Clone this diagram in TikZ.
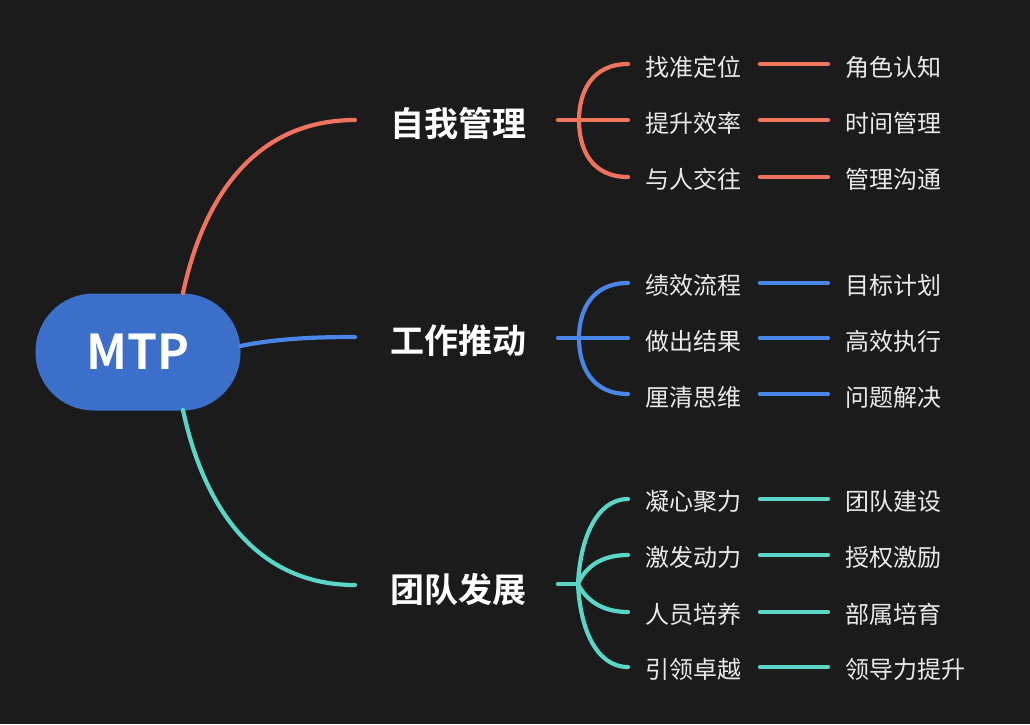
\documentclass[tikz,border=0pt]{standalone}
\usepackage{fontspec}
\setmainfont{Noto Sans}
\newfontfamily\cjk{Noto Sans CJK SC}
\newfontfamily\cjkb{Noto Sans CJK SC Bold}
\definecolor{bg}{HTML}{1B1B1B}
\definecolor{cred}{HTML}{F0735F}
\definecolor{cblue}{HTML}{4A86E8}
\definecolor{cteal}{HTML}{5AD6C8}
\definecolor{cnode}{HTML}{3B6FC9}
\definecolor{ctext}{HTML}{EAEAEA}
\tikzset{
  root/.style={fill=cnode, rounded corners=58pt, minimum width=205pt, minimum height=117pt, inner sep=0pt, text=white, font=\cjkb\fontsize{48}{50}\selectfont},
  mainlbl/.style={anchor=west, inner sep=0pt, text=white, font=\cjkb\fontsize{34}{36}\selectfont},
  sublbl/.style={anchor=west, inner sep=0pt, text=ctext, font=\cjk\fontsize{24}{26}\selectfont},
  br/.style={line width=4.2pt, line cap=round},
}
\begin{document}
\begin{tikzpicture}[x=1pt,y=-1pt]
\fill[bg] (0,0) rectangle (1030,724);
\useasboundingbox (0,0) rectangle (1030,724);

\node[root] (mtp) at (138,352) {MTP};

% main labels
\node[mainlbl] (m1) at (390,124) {自我管理};
\node[mainlbl] (m2) at (390,341) {工作推动};
\node[mainlbl] (m3) at (390,590) {团队发展};

% main connectors
\coordinate (r0) at (183,293);
\coordinate (b0) at (240,346);
\coordinate (t0) at (183,410);
\coordinate (r1) at (355,120);
\coordinate (b1) at (355,337);
\coordinate (t1) at (355,585);
\draw[br, cred] (r0) .. controls (205,190) and (260,120) .. (r1);
\draw[br, cblue] (b0) .. controls (280,338) and (320,337) .. (b1);
\draw[br, cteal] (t0) .. controls (205,513) and (260,585) .. (t1);

% ---------- red group ----------
\coordinate (rh0) at (558,120);
\coordinate (rh1) at (628,120);
\coordinate (ra) at (628,64);
\coordinate (rc) at (628,177);
\coordinate (rm) at (579,120);
\draw[br, cred] (rh0) -- (rh1);
\draw[br, cred] (ra) .. controls (592,64) and (579,92) .. (rm) .. controls (579,150) and (592,177) .. (rc);

\node[sublbl] (s11) at (645,67) {找准定位};
\node[sublbl] (s12) at (645,123) {提升效率};
\node[sublbl] (s13) at (645,179) {与人交往};
\node[sublbl] (e11) at (845,67) {角色认知};
\node[sublbl] (e12) at (845,123) {时间管理};
\node[sublbl] (e13) at (845,179) {管理沟通};
\coordinate (l11a) at (760,64);  \coordinate (l11b) at (828,64);
\coordinate (l12a) at (760,120); \coordinate (l12b) at (828,120);
\coordinate (l13a) at (760,177); \coordinate (l13b) at (828,177);
\draw[br, cred] (l11a) -- (l11b);
\draw[br, cred] (l12a) -- (l12b);
\draw[br, cred] (l13a) -- (l13b);

% ---------- blue group ----------
\coordinate (bh0) at (558,338);
\coordinate (bh1) at (628,338);
\coordinate (ba) at (628,283);
\coordinate (bc) at (628,394);
\coordinate (bm) at (579,338);
\draw[br, cblue] (bh0) -- (bh1);
\draw[br, cblue] (ba) .. controls (592,283) and (579,310) .. (bm) .. controls (579,367) and (592,394) .. (bc);

\node[sublbl] (s21) at (645,285) {绩效流程};
\node[sublbl] (s22) at (645,341) {做出结果};
\node[sublbl] (s23) at (645,397) {厘清思维};
\node[sublbl] (e21) at (845,285) {目标计划};
\node[sublbl] (e22) at (845,341) {高效执行};
\node[sublbl] (e23) at (845,397) {问题解决};
\coordinate (l21a) at (760,283); \coordinate (l21b) at (828,283);
\coordinate (l22a) at (760,338); \coordinate (l22b) at (828,338);
\coordinate (l23a) at (760,394); \coordinate (l23b) at (828,394);
\draw[br, cblue] (l21a) -- (l21b);
\draw[br, cblue] (l22a) -- (l22b);
\draw[br, cblue] (l23a) -- (l23b);

% ---------- teal group ----------
\coordinate (th0) at (558,584);
\coordinate (tm) at (578,584);
\coordinate (ta) at (628,499);
\coordinate (tb) at (628,555);
\coordinate (tc) at (628,612);
\coordinate (td) at (628,667);
\draw[br, cteal] (th0) -- (tm);
\draw[br, cteal] (ta) .. controls (596,499) and (580,540) .. (tm) .. controls (580,628) and (596,667) .. (td);
\draw[br, cteal] (tm) .. controls (586,566) and (602,555) .. (tb);
\draw[br, cteal] (tm) .. controls (586,600) and (602,612) .. (tc);

\node[sublbl] (s31) at (645,501) {凝心聚力};
\node[sublbl] (s32) at (645,557) {激发动力};
\node[sublbl] (s33) at (645,614) {人员培养};
\node[sublbl] (s34) at (645,669) {引领卓越};
\node[sublbl] (e31) at (845,501) {团队建设};
\node[sublbl] (e32) at (845,557) {授权激励};
\node[sublbl] (e33) at (845,614) {部属培育};
\node[sublbl] (e34) at (845,669) {领导力提升};
\coordinate (l31a) at (760,499); \coordinate (l31b) at (828,499);
\coordinate (l32a) at (760,555); \coordinate (l32b) at (828,555);
\coordinate (l33a) at (760,612); \coordinate (l33b) at (828,612);
\coordinate (l34a) at (760,667); \coordinate (l34b) at (828,667);
\draw[br, cteal] (l31a) -- (l31b);
\draw[br, cteal] (l32a) -- (l32b);
\draw[br, cteal] (l33a) -- (l33b);
\draw[br, cteal] (l34a) -- (l34b);
\end{tikzpicture}
\end{document}
